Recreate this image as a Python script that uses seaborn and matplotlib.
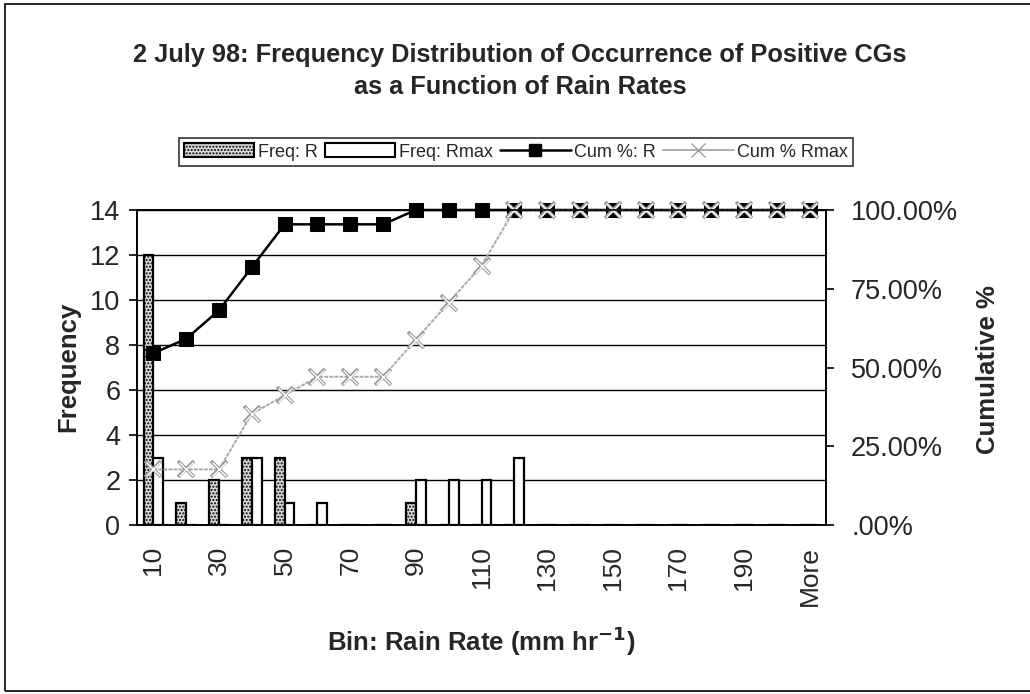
import numpy as np
import pandas as pd
import matplotlib
matplotlib.use("Agg")
import matplotlib.pyplot as plt
import seaborn as sns
from matplotlib.patches import Patch, Rectangle
from matplotlib.lines import Line2D

# ================================================
#  Datos
# ================================================
bins = ['10', '20', '30', '40', '50', '60', '70', '80', '90', '100',
        '110', '120', '130', '140', '150', '160', '170', '180', '190', '200', 'More']
freq_r = [12, 1, 2, 3, 3, 0, 0, 0, 1, 0, 0, 0, 0, 0, 0, 0, 0, 0, 0, 0, 0]
freq_rmax = [3, 0, 0, 3, 1, 1, 0, 0, 2, 2, 2, 3, 0, 0, 0, 0, 0, 0, 0, 0, 0]
cum_r = [54.55, 59.09, 68.18, 81.82, 95.45, 95.45, 95.45, 95.45, 100, 100, 100,
         100, 100, 100, 100, 100, 100, 100, 100, 100, 100]
cum_rmax = [17.65, 17.65, 17.65, 35.29, 41.18, 47.06, 47.06, 47.06, 58.82, 70.59,
            82.35, 100, 100, 100, 100, 100, 100, 100, 100, 100, 100]

df = pd.DataFrame({'Bin': bins * 2,
                   'Frecuencia': freq_r + freq_rmax,
                   'Serie': ['Freq: R'] * len(bins) + ['Freq: Rmax'] * len(bins)})

sns.set_theme(style='white')
plt.rcParams['font.family'] = ['Liberation Sans', 'DejaVu Sans']
plt.rcParams['hatch.color'] = '#9a9a9a'
plt.rcParams['hatch.linewidth'] = 1.0
plt.rcParams['mathtext.default'] = 'bf'

fig = plt.figure(figsize=(10.3, 6.94), dpi=100)
ax = fig.add_axes([0.133, 0.2435, 0.669, 0.4539])

# ================================================
#  Barras de frecuencia
# ================================================
sns.barplot(data=df, x='Bin', y='Frecuencia', hue='Serie', order=bins,
            palette={'Freq: R': '#dadada', 'Freq: Rmax': 'white'},
            width=0.6, edgecolor='black', linewidth=1.6, legend=False, ax=ax)
for bar in ax.patches[:len(bins)]:
    bar.set_hatch('.....')

ax.set_ylim(0, 14)
ax.set_xlim(-0.5, len(bins) - 0.5)
ax.set_yticks(range(0, 15, 2))
ax.grid(axis='y', color='black', linewidth=1.0)
ax.set_axisbelow(True)
for s in ax.spines.values():
    s.set_color('black')
    s.set_linewidth(1.2)

# ticks en los limites de categoria, etiquetas cada dos
ax.set_xticks(np.arange(-0.5, len(bins), 1), minor=True)
ax.set_xticks(np.arange(0, len(bins), 2))
ax.set_xticklabels(bins[::2], rotation=90, fontsize=19)
ax.tick_params(axis='x', which='major', length=0, pad=15)
ax.tick_params(axis='x', which='minor', length=6, width=1.2, color='black', direction='out')
ax.tick_params(axis='y', labelsize=19.5, length=6, width=1.2, color='black',
               direction='out', left=True, pad=6)
ax.set_xlabel('')
ax.set_ylabel('')

# ================================================
#  Lineas acumuladas (eje derecho)
# ================================================
ax2 = ax.twinx()
pos = np.arange(len(bins))
sns.lineplot(x=pos, y=cum_r, color='black', linewidth=1.8, marker='s',
             markersize=9.5, markeredgecolor='black', sort=False, clip_on=False, ax=ax2)
sns.lineplot(x=pos, y=cum_rmax, color='#a8a8a8', linewidth=1.4, linestyle=(0, (2, 0.6)),
             marker='x', markersize=11, markeredgewidth=2.6, markeredgecolor='#9a9a9a',
             sort=False, clip_on=False, ax=ax2)
sns.lineplot(x=pos, y=cum_rmax, linestyle='', marker='x', markersize=10,
             markeredgewidth=1.0, markeredgecolor='white', sort=False, clip_on=False, ax=ax2)
ax2.set_ylim(0, 100)
ax2.set_yticks([0, 25, 50, 75, 100])
ax2.set_yticklabels(['.00%', '25.00%', '50.00%', '75.00%', '100.00%'])
ax2.tick_params(axis='y', labelsize=19.5, length=6, width=1.2, color='black',
                direction='out', right=True, pad=12)
ax2.set_ylabel('')
ax2.grid(False)
for s in ax2.spines.values():
    s.set_color('black')
    s.set_linewidth(1.2)

# ================================================
#  Titulos, leyenda y marco
# ================================================
fig.text(0.505, 1 - 55 / 694, '2 July 98: Frequency Distribution of Occurrence of Positive CGs',
         ha='center', va='center', fontsize=18.3, fontweight='bold')
fig.text(0.505, 1 - 87 / 694, 'as a Function of Rain Rates',
         ha='center', va='center', fontsize=18.3, fontweight='bold')
fig.text(68 / 1030, 1 - 367 / 694, 'Frequency', rotation=90, ha='center', va='center',
         fontsize=18.5, fontweight='bold')
fig.text(988 / 1030, 1 - 370 / 694, 'Cumulative %', rotation=90, ha='center', va='center',
         fontsize=18.5, fontweight='bold')
fig.text(481 / 1030, 1 - 641 / 694, 'Bin: Rain Rate (mm hr$^{-1}$)', ha='center', va='center',
         fontsize=18.5, fontweight='bold')

handles = [Patch(facecolor='#dadada', edgecolor='black', hatch='.....', linewidth=1.5),
           Patch(facecolor='white', edgecolor='black', linewidth=1.5),
           Line2D([], [], color='black', marker='s', markersize=9, linewidth=1.8),
           Line2D([], [], color='#a8a8a8', marker='x', markersize=10, markeredgecolor='#a0a0a0',
                  linewidth=1.3)]
labels = ['Freq: R', 'Freq: Rmax', 'Cum %: R', 'Cum % Rmax']
leg = fig.legend(handles, labels, loc='center', bbox_to_anchor=(516 / 1030, 1 - 152 / 694),
                 ncol=4, fontsize=13, frameon=True, fancybox=False, edgecolor='black',
                 handlelength=3.9, handleheight=0.8, handletextpad=0.2, columnspacing=0.4,
                 borderpad=0.3)
leg.get_frame().set_linewidth(1.2)

fig.patches.append(Rectangle((0.005, 0.004), 1.2, 0.99, transform=fig.transFigure,
                             fill=False, edgecolor='black', linewidth=1.2))

fig.savefig('out.png', dpi=100)
